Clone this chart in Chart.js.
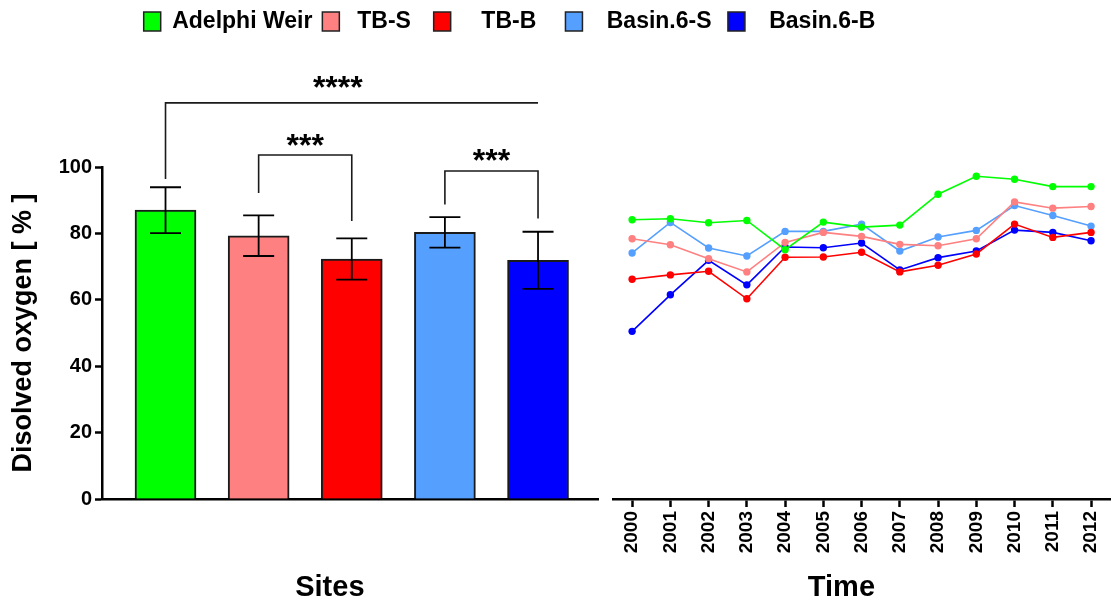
<!DOCTYPE html>
<html>
<head>
<meta charset="utf-8">
<title>Dissolved oxygen by site and year</title>
<script src="https://cdn.jsdelivr.net/npm/chart.js@4/dist/chart.umd.min.js"></script>
<style>
  html, body { margin: 0; padding: 0; background: #ffffff; }
  #wrap { position: relative; width: 1113px; height: 602px; overflow: hidden; }
  #wrap canvas { position: absolute; left: 0; top: 0; }
</style>
</head>
<body>
<div id="wrap">
  <canvas id="siteBars" width="1019" height="602"></canvas>
  <canvas id="yearLines" width="1118" height="602"></canvas>
</div>
<script>
// ---- data ----
const sites = ['Adelphi Weir', 'TB-S', 'TB-B', 'Basin.6-S', 'Basin.6-B'];
const legendNames = ['Adelphi Weir', ' TB-S  ', '   TB-B   ', '  Basin.6-S ', '  Basin.6-B'];
const siteColors = ['#00ff00', '#ff8080', '#ff0000', '#559fff', '#0000ff'];

// mean dissolved oxygen (%) per site and its standard deviation
const meanDO = [87.0, 79.3, 72.3, 80.3, 71.9];
const sdDO = [6.9, 6.1, 6.2, 4.6, 8.6];

// significance brackets between sites (indices into sites)
const bracketPairs = [[0, 4], [1, 2], [3, 4]];
const bracketLevels = [119.3, 103.6, 98.8];
const bracketLegEnds = [[96.4, null], [92.2, 83.7], [88.7, 84.5]];
const bracketStars = ['****', '***', '***'];
const bracketStarAt = [1.85, 1.5, 3.5];
const bracketStarLevels = [124.9, 107.3, 103.0];

// yearly series
const years = ['2000', '2001', '2002', '2003', '2004', '2005', '2006', '2007', '2008', '2009', '2010', '2011', '2012'];
const adelphiWeir = [84.1, 84.4, 83.2, 83.9, 75.1, 83.4, 81.9, 82.5, 91.8, 97.2, 96.3, 94.1, 94.1];
const tbS = [78.4, 76.6, 72.4, 68.4, 77.3, 80.3, 79.1, 76.7, 76.3, 78.4, 89.5, 87.6, 88.1];
const tbB = [66.2, 67.5, 68.6, 60.3, 72.8, 72.9, 74.3, 68.4, 70.4, 73.8, 82.8, 78.8, 80.3];
const basin6S = [74.1, 83.3, 75.6, 73.2, 80.6, 80.6, 82.8, 74.7, 78.9, 80.9, 88.4, 85.4, 82.2];
const basin6B = [50.5, 61.5, 71.9, 64.5, 75.9, 75.7, 77.1, 69.0, 72.7, 74.7, 81.0, 80.3, 77.8];
const yearSeries = [adelphiWeir, tbS, tbB, basin6S, basin6B];

const valueTicks = [0, 20, 40, 60, 80, 100];

// ---- shared styling ----
const FONT = "'Liberation Sans', Arial, Helvetica, sans-serif";
const INK = '#000000';
const AXIS_BAND = 103;      // height reserved under both plots for labels and titles
const TOP_BAND = 167;       // space above the plots (legend + brackets)

// error bars: mean ± SD, drawn on each bar
const errorBars = {
  id: 'errorBars',
  afterDatasetsDraw(chart) {
    const { ctx } = chart;
    const y = chart.scales.y;
    const bars = chart.getDatasetMeta(0).data;
    ctx.save();
    ctx.strokeStyle = INK;
    ctx.lineWidth = 1.8;
    bars.forEach((bar, i) => {
      const top = y.getPixelForValue(meanDO[i] + sdDO[i]);
      const bot = y.getPixelForValue(meanDO[i] - sdDO[i]);
      const half = 15.5;
      ctx.beginPath();
      ctx.moveTo(bar.x, top); ctx.lineTo(bar.x, bot);
      ctx.moveTo(bar.x - half, top); ctx.lineTo(bar.x + half, top);
      ctx.moveTo(bar.x - half, bot); ctx.lineTo(bar.x + half, bot);
      ctx.stroke();
    });
    ctx.restore();
  }
};

// significance brackets with star labels
const sigBrackets = {
  id: 'sigBrackets',
  afterDraw(chart) {
    const { ctx } = chart;
    const x = chart.scales.x;
    const y = chart.scales.y;
    ctx.save();
    ctx.strokeStyle = '#1a1a1a';
    ctx.lineWidth = 1.6;
    bracketPairs.forEach(([a, b], k) => {
      const xa = x.getPixelForValue(a);
      const xb = x.getPixelForValue(b);
      const yl = y.getPixelForValue(bracketLevels[k]);
      const [legA, legB] = bracketLegEnds[k];
      ctx.beginPath();
      if (legA !== null) { ctx.moveTo(xa, y.getPixelForValue(legA)); ctx.lineTo(xa, yl); } else { ctx.moveTo(xa, yl); }
      ctx.lineTo(xb, yl);
      if (legB !== null) { ctx.lineTo(xb, y.getPixelForValue(legB)); }
      ctx.stroke();

      const size = 32;
      ctx.font = `bold ${size}px ${FONT}`;
      ctx.fillStyle = INK;
      ctx.textAlign = 'center';
      ctx.textBaseline = 'alphabetic';
      const cy = y.getPixelForValue(bracketStarLevels[k]);
      ctx.fillText(bracketStars[k], x.getPixelForValue(bracketStarAt[k]), cy + size * 0.425);
    });
    ctx.restore();
  }
};

// keeps a fixed band between the top of the canvas and the plot
const legendBand = {
  id: 'legendBand',
  beforeInit(chart) {
    const fit = chart.legend.fit;
    chart.legend.fit = function () {
      fit.call(this);
      this.height = TOP_BAND;
    };
  }
};

// ---- site means (bar chart) ----
new Chart(document.getElementById('siteBars'), {
  type: 'bar',
  data: {
    datasets: [{
      data: meanDO.map((v, i) => ({ x: i, y: v })),
      backgroundColor: siteColors,
      borderColor: '#1a1a1a',
      borderWidth: 2,
      barThickness: 61
    }]
  },
  options: {
    responsive: false,
    animation: false,
    events: [],
    layout: { padding: 0 },
    plugins: {
      tooltip: { enabled: false },
      legend: {
        position: 'top',
        align: 'center',
        labels: {
          color: INK,
          font: { family: FONT, size: 23, weight: 'bold' },
          boxWidth: 17,
          boxHeight: 19,
          padding: 10,
          generateLabels: () => sites.map((s, i) => ({
            text: legendNames[i],
            fillStyle: siteColors[i],
            strokeStyle: '#222222',
            lineWidth: 1.5,
            hidden: false,
            index: i
          }))
        }
      }
    },
    scales: {
      x: {
        type: 'linear',
        offset: false,
        min: -0.682,
        max: 4.644,
        grid: { display: false },
        ticks: { display: false },
        border: { display: true, color: INK, width: 2.5 },
        title: {
          display: true,
          text: 'Sites     ',
          color: INK,
          font: { family: FONT, size: 29, weight: 'bold', lineHeight: 1 },
          padding: { top: 0, bottom: 0 }
        },
        afterFit(scale) { scale.height = AXIS_BAND; }
      },
      y: {
        min: 0,
        max: 100,
        afterBuildTicks(scale) { scale.ticks = valueTicks.map(v => ({ value: v })); },
        grid: { display: true, drawOnChartArea: false, drawTicks: true, tickLength: 7, tickWidth: 2.5, tickColor: INK },
        border: { display: true, color: INK, width: 2.5 },
        ticks: {
          color: INK,
          padding: 3,
          font: { family: FONT, size: 20, weight: 'bold' }
        },
        title: {
          display: true,
          text: 'Disolved oxygen [ % ]',
          color: INK,
          font: { family: FONT, size: 27, weight: 'bold' },
          padding: { top: 7, bottom: 0 }
        },
        afterFit(scale) { scale.width = 102; }
      },
      pad: {
        type: 'linear',
        position: 'right',
        display: true,
        grid: { display: false },
        ticks: { display: false },
        border: { display: false },
        afterFit(scale) { scale.width = 421; }
      }
    }
  },
  plugins: [legendBand, errorBars, sigBrackets]
});

// ---- yearly trends (line chart) ----
new Chart(document.getElementById('yearLines'), {
  type: 'line',
  data: {
    labels: years,
    datasets: yearSeries.map((vals, i) => ({
      label: sites[i],
      data: vals,
      borderColor: siteColors[i],
      backgroundColor: siteColors[i],
      pointBackgroundColor: siteColors[i],
      pointBorderWidth: 0,
      pointRadius: 3.7,
      borderWidth: 1.6,
      tension: 0,
      fill: false
    }))
  },
  options: {
    responsive: false,
    animation: false,
    events: [],
    layout: { padding: { top: TOP_BAND, right: 0, left: 0, bottom: 0 } },
    plugins: { legend: { display: false }, tooltip: { enabled: false } },
    scales: {
      x: {
        type: 'category',
        offset: true,
        grid: { display: true, offset: false, drawOnChartArea: false, drawTicks: true, tickLength: 8, tickWidth: 2.5, tickColor: INK },
        border: { display: true, color: INK, width: 2.5 },
        ticks: {
          color: INK,
          autoSkip: false,
          minRotation: 90,
          maxRotation: 90,
          padding: 4,
          font: { family: FONT, size: 19, weight: 'bold' }
        },
        title: {
          display: true,
          text: 'Time     ',
          color: INK,
          font: { family: FONT, size: 29, weight: 'bold', lineHeight: 1 },
          padding: { top: 0, bottom: 0 }
        },
        afterFit(scale) { scale.height = AXIS_BAND; }
      },
      y: {
        min: 0,
        max: 100,
        display: true,
        grid: { display: false },
        ticks: { display: false },
        border: { display: false },
        afterFit(scale) { scale.width = 613; }
      }
    }
  }
});
</script>
</body>
</html>
